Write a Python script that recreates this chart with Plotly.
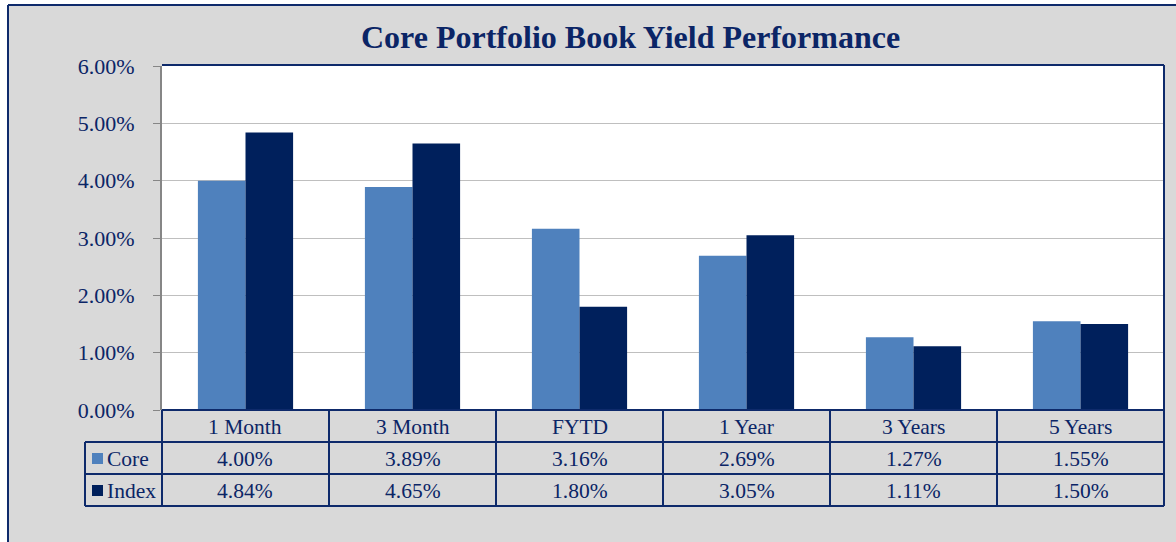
import plotly.graph_objects as go

categories = ["1 Month", "3 Month", "FYTD", "1 Year", "3 Years", "5 Years"]
core = [4.00, 3.89, 3.16, 2.69, 1.27, 1.55]
index_vals = [4.84, 4.65, 1.80, 3.05, 1.11, 1.50]
series_names = ["Core", "Index"]
title_text = "Core Portfolio Book Yield Performance"
y_ticks = [0, 1, 2, 3, 4, 5, 6]

W, H = 1176, 542
OX, OY = 0, 0
CORE_C = "#4f81bd"
INDEX_C = "#00205c"
NAVY = "#0e2a6b"
TXT = "#0b2566"
FONT = "Liberation Serif"

def fx(p):
    return (p - OX) / W

def fy(p):
    return 1 - (p - OY) / H

PL, PR, PT, PB = 162, 1164, 66, 410
ROW = 32
LEG_L = 85

fig = go.Figure()
fig.add_trace(go.Bar(x=categories, y=core, name=series_names[0], marker_color=CORE_C, marker_line_width=0))
fig.add_trace(go.Bar(x=categories, y=index_vals, name=series_names[1], marker_color=INDEX_C, marker_line_width=0))

LW = 2
shapes = []
# outer frame (white outside)
shapes.append(dict(type="rect", xref="paper", yref="paper", x0=-0.1, x1=fx(8), y0=-0.1, y1=1.1,
                   fillcolor="white", line=dict(width=0), layer="below"))
shapes.append(dict(type="rect", xref="paper", yref="paper", x0=-0.1, x1=1.1, y0=fy(5), y1=1.1,
                   fillcolor="white", line=dict(width=0), layer="below"))
shapes.append(dict(type="line", xref="paper", yref="paper", x0=fx(8), x1=fx(8), y0=fy(5), y1=-0.1,
                   line=dict(color=NAVY, width=LW), layer="above"))
shapes.append(dict(type="line", xref="paper", yref="paper", x0=fx(8), x1=1.1, y0=fy(5), y1=fy(5),
                   line=dict(color=NAVY, width=LW), layer="above"))
# plot frame top
shapes.append(dict(type="line", xref="paper", yref="paper", x0=fx(PL), x1=fx(PR), y0=fy(PT - 1), y1=fy(PT - 1),
                   line=dict(color=NAVY, width=LW), layer="above"))
# table horizontal lines
shapes.append(dict(type="line", xref="paper", yref="paper", x0=fx(PL), x1=fx(PR), y0=fy(PB), y1=fy(PB),
                   line=dict(color=NAVY, width=LW), layer="above"))
for k in (1, 2, 3):
    yy = PB + k * ROW
    shapes.append(dict(type="line", xref="paper", yref="paper", x0=fx(LEG_L), x1=fx(PR), y0=fy(yy), y1=fy(yy),
                       line=dict(color=NAVY, width=LW), layer="above"))
# vertical lines
shapes.append(dict(type="line", xref="paper", yref="paper", x0=fx(LEG_L), x1=fx(LEG_L), y0=fy(PB + ROW), y1=fy(PB + 3 * ROW),
                   line=dict(color=NAVY, width=LW), layer="above"))
colw = (PR - PL) / len(categories)
for i in range(len(categories)):
    xx = PL + i * colw
    shapes.append(dict(type="line", xref="paper", yref="paper", x0=fx(xx), x1=fx(xx), y0=fy(PB), y1=fy(PB + 3 * ROW),
                       line=dict(color=NAVY, width=LW), layer="above"))
shapes.append(dict(type="line", xref="paper", yref="paper", x0=fx(PR), x1=fx(PR), y0=fy(PT - 1), y1=fy(PB + 3 * ROW),
                   line=dict(color=NAVY, width=LW), layer="above"))
# legend squares
for k, c in enumerate([CORE_C, INDEX_C]):
    yc = PB + ROW * (k + 1) + ROW / 2
    shapes.append(dict(type="rect", xref="paper", yref="paper", x0=fx(92), x1=fx(103), y0=fy(yc + 6), y1=fy(yc - 5),
                       fillcolor=c, line=dict(width=0), layer="above"))

annotations = []
annotations.append(dict(text=f"<b>{title_text}</b>", xref="paper", yref="paper", x=fx(630), y=fy(37),
                        showarrow=False, font=dict(family=FONT, size=32, color=TXT), xanchor="center", yanchor="middle"))
TS = 21.5
for i, cat in enumerate(categories):
    annotations.append(dict(text=cat, xref="x", yref="paper", x=cat, y=fy(PB + ROW / 2 + 1), showarrow=False,
                            font=dict(family=FONT, size=TS, color=TXT), xanchor="center", yanchor="middle"))
    for k, vals in enumerate([core, index_vals]):
        annotations.append(dict(text=f"{vals[i]:.2f}%", xref="x", yref="paper", x=cat,
                                y=fy(PB + ROW * (k + 1) + ROW / 2 + 1), showarrow=False,
                                font=dict(family=FONT, size=TS, color=TXT), xanchor="center", yanchor="middle"))
for k, nm in enumerate(series_names):
    annotations.append(dict(text=nm, xref="paper", yref="paper", x=fx(105), y=fy(PB + ROW * (k + 1) + ROW / 2 + 1),
                            showarrow=False, font=dict(family=FONT, size=TS, color=TXT), xanchor="left", yanchor="middle"))

fig.update_layout(
    template="none",
    width=W, height=H,
    margin=dict(l=0, r=0, t=0, b=0, autoexpand=False),
    paper_bgcolor="#d9d9d9",
    plot_bgcolor="white",
    barmode="group",
    bargap=0.43,
    bargroupgap=0,
    showlegend=False,
    hovermode=False,
    shapes=shapes,
    annotations=annotations,
    xaxis=dict(domain=[fx(PL), fx(PR)], range=[-0.5, len(categories) - 0.5], showticklabels=False,
               showgrid=False, zeroline=False, showline=False, ticks="", automargin=False),
    yaxis=dict(domain=[fy(PB), fy(PT)], range=[0, 6], tickvals=y_ticks,
               ticktext=[f"{v:.2f}%" for v in y_ticks], automargin=False,
               showgrid=True, gridcolor="#bfbfbf", gridwidth=1, zeroline=False,
               showline=True, linecolor="#868686", linewidth=2, ticks="outside", ticklen=7, tickcolor="#868686",
               tickfont=dict(family=FONT, size=22, color=TXT), ticklabelstandoff=14),
)

fig.write_html("out.html", config={"displayModeBar": False, "staticPlot": True},
               post_script="document.body.style.margin='0px';document.body.style.overflow='hidden';")
